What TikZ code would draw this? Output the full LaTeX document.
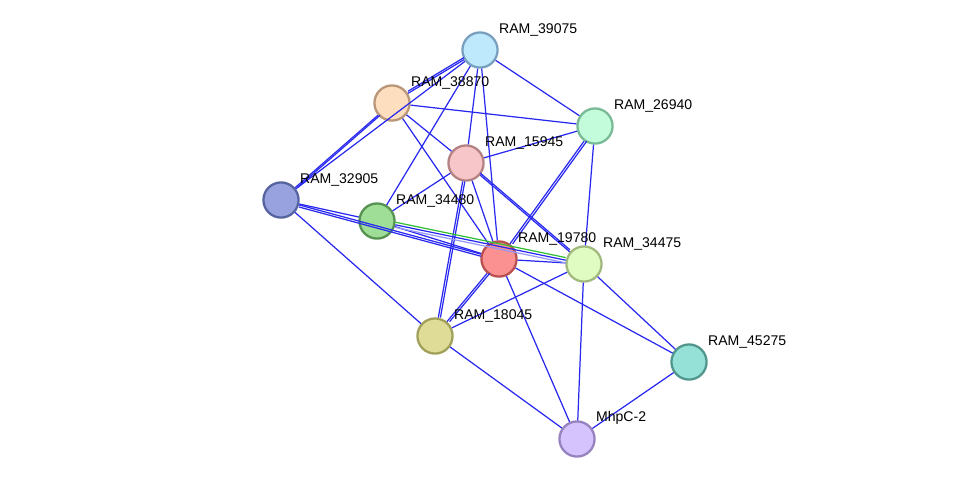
\documentclass[tikz,border=0pt]{standalone}
\usepackage{fontspec}
\setmainfont{Liberation Sans}
\usepackage{tikz}
\usetikzlibrary{calc}

\tikzset{
	prot/.style={circle,draw,line width=1.3pt,minimum size=20pt,inner sep=0pt},
	lbl/.style={font=\fontsize{8}{9}\selectfont,anchor=south west,inner sep=1pt},
	ed/.style={draw={rgb,255:red,40;green,40;blue,240},line width=0.7pt},
}

\begin{document}
\begin{tikzpicture}[x=0.02cm,y=-0.02cm]
	\useasboundingbox (0,0) rectangle (976,485);
	
	%circles
	\node[prot,draw={rgb,255:red,120;green,160;blue,190},fill={rgb,255:red,190;green,232;blue,252}] (n39075) at (480,50) {};
	\node[prot,draw={rgb,255:red,185;green,150;blue,120},fill={rgb,255:red,253;green,222;blue,190}] (n38870) at (392,103) {};
	\node[prot,draw={rgb,255:red,120;green,185;blue,150},fill={rgb,255:red,195;green,252;blue,218}] (n26940) at (595,126) {};
	\node[prot,draw={rgb,255:red,180;green,130;blue,130},fill={rgb,255:red,246;green,198;blue,200}] (n15945) at (466,163) {};
	\node[prot,draw={rgb,255:red,85;green,100;blue,160},fill={rgb,255:red,152;green,162;blue,222}] (n32905) at (281,200) {};
	\node[prot,draw={rgb,255:red,85;green,145;blue,80},fill={rgb,255:red,158;green,222;blue,150}] (n34480) at (377,221) {};
	\node[prot,draw={rgb,255:red,185;green,80;blue,80},fill={rgb,255:red,252;green,145;blue,145}] (n19780) at (499,259) {};
	\node[prot,draw={rgb,255:red,160;green,185;blue,125},fill={rgb,255:red,225;green,252;blue,195}] (n34475) at (584,264) {};
	\node[prot,draw={rgb,255:red,160;green,160;blue,90},fill={rgb,255:red,222;green,220;blue,150}] (n18045) at (435,336) {};
	\node[prot,draw={rgb,255:red,80;green,150;blue,140},fill={rgb,255:red,150;green,225;blue,215}] (n45275) at (689,362) {};
	\node[prot,draw={rgb,255:red,150;green,130;blue,190},fill={rgb,255:red,212;green,195;blue,252}] (nMhpC) at (577,439) {};
	
	%edges
	\foreach \a/\b in {39075/38870,39075/32905,39075/34480,39075/15945,39075/19780,39075/26940,
		38870/26940,38870/32905,38870/15945,38870/19780,15945/26940,15945/34480,15945/18045,
		15945/19780,15945/34475,26940/19780,26940/34475,32905/34480,32905/19780,32905/18045,
		34480/19780,34480/34475,19780/34475,19780/18045,19780/45275,19780/MhpC,34475/18045,
		34475/MhpC,34475/45275,18045/MhpC,45275/MhpC}
		\path[ed] (n\a) -- (n\b);
	\path[ed,transform canvas={yshift=1.2pt}] (n39075) -- (n38870);
	\path[ed,transform canvas={xshift=1.2pt}] (n38870) -- (n32905);
	\path[ed,transform canvas={xshift=1.2pt}] (n15945) -- (n18045);
	\path[ed,transform canvas={xshift=1.5pt}] (n26940) -- (n19780);
	\path[ed,transform canvas={yshift=1.2pt}] (n15945) -- (n34475);
	\path[ed,transform canvas={yshift=-1.2pt}] (n32905) -- (n19780);
	\path[ed,transform canvas={xshift=1.5pt}] (n19780) -- (n18045);
	\path[draw={rgb,255:red,50;green,190;blue,50},line width=0.7pt,transform canvas={yshift=1.5pt}] (n34480) -- (n34475);
	\path[draw={rgb,255:red,150;green,150;blue,250},line width=0.7pt,transform canvas={yshift=-1.5pt}] (n34480) -- (n34475);
	
	%labels
	\foreach \n/\t in {39075/RAM\_39075,38870/RAM\_38870,26940/RAM\_26940,15945/RAM\_15945,
		32905/RAM\_32905,34480/RAM\_34480,19780/RAM\_19780,34475/RAM\_34475,18045/RAM\_18045,
		45275/RAM\_45275,MhpC/MhpC-2}
		\node[lbl] (l\n) at ($(n\n)+(17,-12)$) {\t};
\end{tikzpicture}
\end{document}
